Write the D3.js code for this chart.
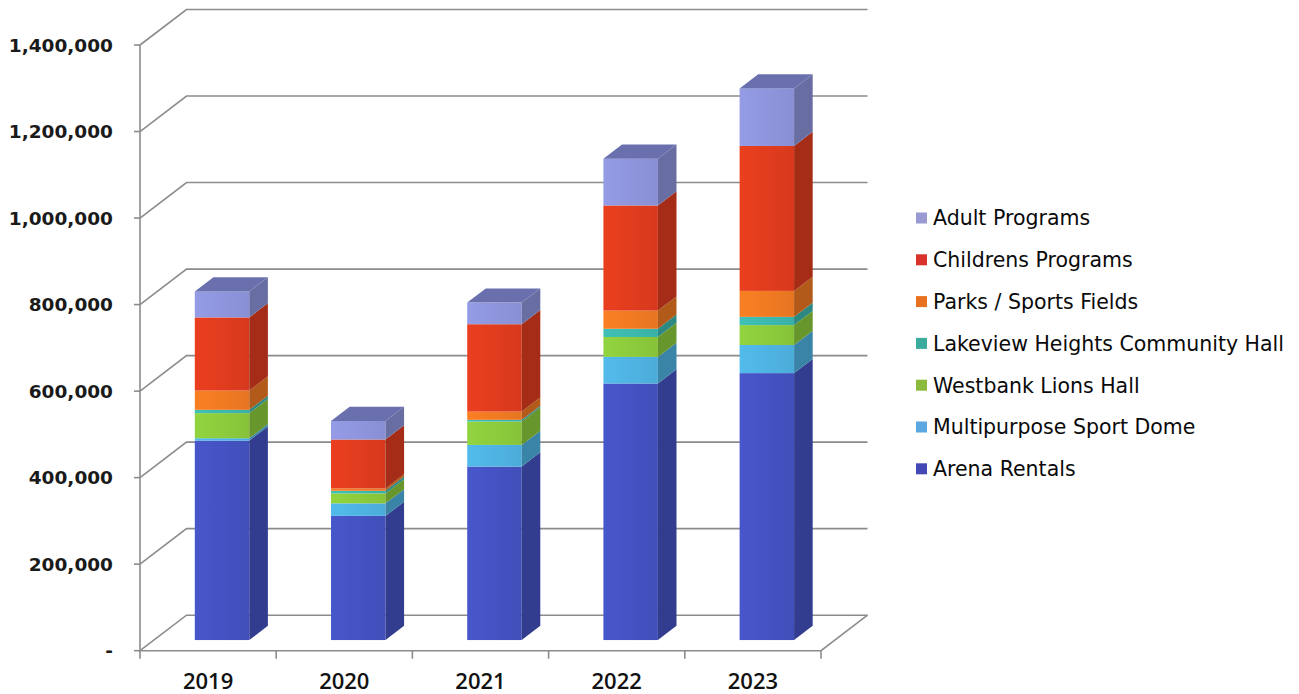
<!DOCTYPE html>
<html>
<head>
<meta charset="utf-8">
<script src="https://cdn.jsdelivr.net/npm/d3@7/dist/d3.min.js"></script>
<style>
  html, body { margin: 0; padding: 0; background: #ffffff; }
  svg { display: block; }
</style>
</head>
<body>
<svg id="chart" width="1299" height="694"></svg>
<script>
// Revenue by program area, 2019–2023
const years = ["2019", "2020", "2021", "2022", "2023"];
const arenaRentals       = [461000, 287000, 401000, 593000, 617000];
const multipurposeDome   = [5500, 29000, 50000, 61500, 65000];
const westbankLionsHall  = [58000, 23000, 54000, 46000, 46000];
const lakeviewHall       = [7600, 6000, 4000, 19000, 19000];
const parksSportsFields  = [44600, 5500, 19000, 42000, 60000];
const childrensPrograms  = [169000, 113000, 202000, 243000, 335000];
const adultPrograms      = [60000, 43000, 50000, 108000, 133000];
const yTicks = [0, 200000, 400000, 600000, 800000, 1000000, 1200000, 1400000];

// Series, bottom of the stack first
const seriesNames = [
  "Arena Rentals", "Multipurpose Sport Dome", "Westbank Lions Hall",
  "Lakeview Heights Community Hall", "Parks / Sports Fields",
  "Childrens Programs", "Adult Programs"
];
const seriesValues = [
  arenaRentals, multipurposeDome, westbankLionsHall, lakeviewHall,
  parksSportsFields, childrensPrograms, adultPrograms
];
const faceColors = ["#4452c2", "#4fb3e2", "#8ccb3c", "#3cb8ae", "#f07a22", "#e03c1e", "#8e95dc"];
const legendColors = ["#4249b4", "#5ba8e0", "#8cba3c", "#3aab9c", "#e8701e", "#d8322a", "#9a9ad2"];

const rows = years.map((y, i) => {
  const r = { year: y };
  seriesNames.forEach((n, k) => { r[n] = seriesValues[k][i]; });
  return r;
});
const stacked = d3.stack().keys(seriesNames)(rows);

const svg = d3.select("#chart");

// Front plane of the plot and the depth vector of the 3D box
const plotLeft = 140, plotRight = 821;
const depth = { x: 46.5, y: -35.5 };
const barFront = 0.3, barBack = 0.7;

const x = d3.scaleBand().domain(years).range([plotLeft, plotRight])
  .paddingInner(0.6).paddingOuter(0.3);
const step = x.step();
const y = d3.scaleLinear().domain([0, 1400000]).range([650.7, 45]);

const gridColor = "#8c8c8c";

// Back wall gridlines and their diagonals from the front axis
const grid = svg.append("g").attr("fill", "none").attr("stroke", gridColor).attr("stroke-width", 1.6);
yTicks.forEach(v => {
  const y0 = y(v);
  grid.append("path").attr("d", d3.line()([
    [plotLeft, y0], [plotLeft + depth.x, y0 + depth.y], [plotRight + depth.x, y0 + depth.y]
  ]));
});

// Floor outline
grid.append("path").attr("d", d3.line()([
  [plotLeft, y(0)], [plotRight, y(0)], [plotRight + depth.x, y(0) + depth.y]
]));

// Front value axis with ticks
grid.append("line").attr("x1", plotLeft).attr("x2", plotLeft).attr("y1", y(1400000)).attr("y2", y(0));
yTicks.forEach(v => {
  grid.append("line").attr("x1", plotLeft - 6).attr("x2", plotLeft).attr("y1", y(v)).attr("y2", y(v));
});
// Category boundary ticks below the floor
d3.range(years.length + 1).forEach(i => {
  const xx = plotLeft + (plotRight - plotLeft) * i / years.length;
  grid.append("line").attr("x1", xx).attr("x2", xx).attr("y1", y(0)).attr("y2", y(0) + 8);
});

// Value labels
svg.append("g").selectAll("text").data(yTicks).join("text")
  .attr("x", 113).attr("y", d => y(d)).attr("dy", "0.36em")
  .attr("text-anchor", "end")
  .attr("font-family", "DejaVu Sans, sans-serif").attr("font-weight", "bold")
  .attr("font-size", 18.5).attr("fill", "#1a1a1a")
  .text(d => d === 0 ? "-" : d3.format(",")(d));

// Category labels
svg.append("g").selectAll("text").data(years).join("text")
  .attr("x", d => plotLeft + step * (years.indexOf(d) + 0.5))
  .attr("y", 689)
  .attr("text-anchor", "middle")
  .attr("font-family", "Open Sans, sans-serif").attr("font-weight", 600)
  .attr("font-size", 22).attr("fill", "#111")
  .text(d => d);

// Gradients for the front faces
const defs = svg.append("defs");
faceColors.forEach((c, k) => {
  const g = defs.append("linearGradient").attr("id", "face" + k)
    .attr("x1", "0%").attr("x2", "100%").attr("y1", "0%").attr("y2", "0%");
  g.append("stop").attr("offset", "0%").attr("stop-color", d3.color(c).brighter(0.12));
  g.append("stop").attr("offset", "55%").attr("stop-color", c);
  g.append("stop").attr("offset", "100%").attr("stop-color", d3.color(c).darker(0.12));
});

// Stacked 3D columns
const fx = barFront * depth.x, fy = barFront * depth.y;
const bx = (barBack - barFront) * depth.x, by = (barBack - barFront) * depth.y;
const bars = svg.append("g");
years.forEach((yr, i) => {
  const g = bars.append("g");
  const xl = x(yr) + fx;
  const xr = xl + x.bandwidth();
  stacked.forEach((layer, k) => {
    const d = layer[i];
    const yTop = y(d[1]) + fy, yBot = y(d[0]) + fy;
    if (yBot - yTop <= 0) return;
    g.append("rect")
      .attr("x", xl).attr("y", yTop).attr("width", xr - xl).attr("height", yBot - yTop)
      .attr("fill", `url(#face${k})`);
    g.append("path")
      .attr("d", d3.line()([[xr, yBot], [xr + bx, yBot + by], [xr + bx, yTop + by], [xr, yTop]]) + "Z")
      .attr("fill", d3.color(faceColors[k]).darker(0.85));
  });
  const topVal = stacked[stacked.length - 1][i][1];
  const yt = y(topVal) + fy;
  g.append("path")
    .attr("d", d3.line()([[xl, yt], [xl + bx, yt + by], [xr + bx, yt + by], [xr, yt]]) + "Z")
    .attr("fill", "#6a70ae");
});

// Legend, top of the stack first
const legendItems = seriesNames.map((n, k) => ({ name: n, color: legendColors[k] })).reverse();
const legend = svg.append("g");
legendItems.forEach((it, j) => {
  const cy = 218 + j * 41.8;
  legend.append("rect").attr("x", 916).attr("y", cy - 5.5).attr("width", 11).attr("height", 11)
    .attr("fill", it.color);
  legend.append("text").attr("x", 933).attr("y", cy).attr("dy", "0.36em")
    .attr("font-family", "DejaVu Sans, sans-serif").attr("font-size", 20.5).attr("fill", "#0a0a0a")
    .text(it.name);
});
</script>
</body>
</html>
